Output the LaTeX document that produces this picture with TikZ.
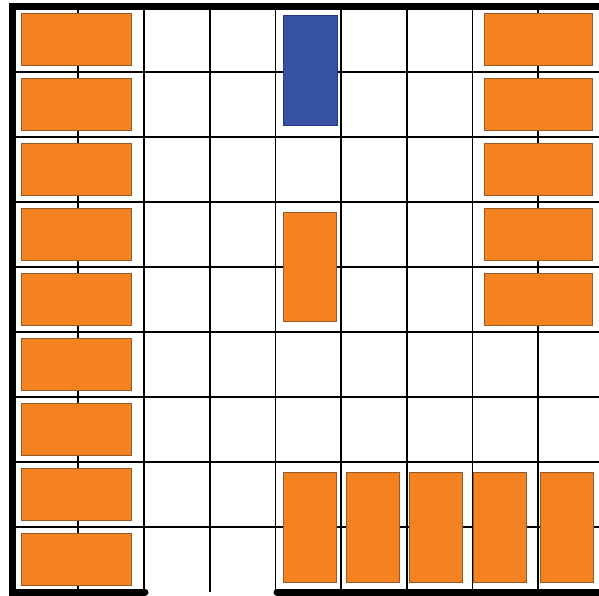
\documentclass[tikz,border=0pt]{standalone}
\definecolor{boxorange}{RGB}{244,130,32}
\definecolor{boxorangeedge}{RGB}{150,90,40}
\definecolor{boxblue}{RGB}{54,80,162}
\definecolor{boxblueedge}{RGB}{40,55,130}
\begin{document}
\begin{tikzpicture}[x=1pt,y=-1pt,
  gridline/.style={line width=1.8pt,black},
  wall/.style={line width=7pt,black,line cap=round},
  obox/.style={draw=boxorangeedge,fill=boxorange,line width=0.9pt,inner sep=0pt},
  bbox/.style={draw=boxblueedge,fill=boxblue,line width=0.9pt,inner sep=0pt},
  hbox/.style={minimum width=110pt,minimum height=52pt},
  vbox/.style={minimum width=53pt,minimum height=110pt}]
\useasboundingbox (0,0) rectangle (599,596);
\clip (0,0) rectangle (599,596);
\fill[white] (0,0) rectangle (599,596);
% grid
\foreach \i in {1,...,9} \draw[gridline] ({12.6+65.7*\i},7) -- ({12.6+65.7*\i},592);
\foreach \j in {1,...,8} \draw[gridline] (12.6,{7+65*\j}) -- (610,{7+65*\j});
% walls
\coordinate (tl) at (12,7);
\coordinate (tr) at (610,7);
\coordinate (bl) at (12,592);
\coordinate (bm) at (145,592);
\coordinate (bn) at (277,592);
\coordinate (br) at (610,592);
\draw[wall] (tr) -- (tl) -- (bl) -- (bm);
\draw[wall] (bn) -- (br);
% left column boxes
\foreach \r in {1,...,9} \node[obox,hbox] (L\r) at (76.5,{7+65*(\r-1)+32.5}) {};
% right column boxes
\foreach \r in {1,...,5} \node[obox,hbox,minimum width=108pt] (R\r) at (538,{7+65*(\r-1)+32.5}) {};
% bottom boxes
\foreach \c/\x in {1/309.5,2/373,3/436,4/500,5/566.5} \node[obox,vbox] (B\c) at (\x,527) {};
% middle boxes
\node[bbox,vbox,minimum width=54pt] (blue) at (310,70) {};
\node[obox,vbox,minimum height=109pt] (mid) at (309.5,266.5) {};
\end{tikzpicture}
\end{document}
